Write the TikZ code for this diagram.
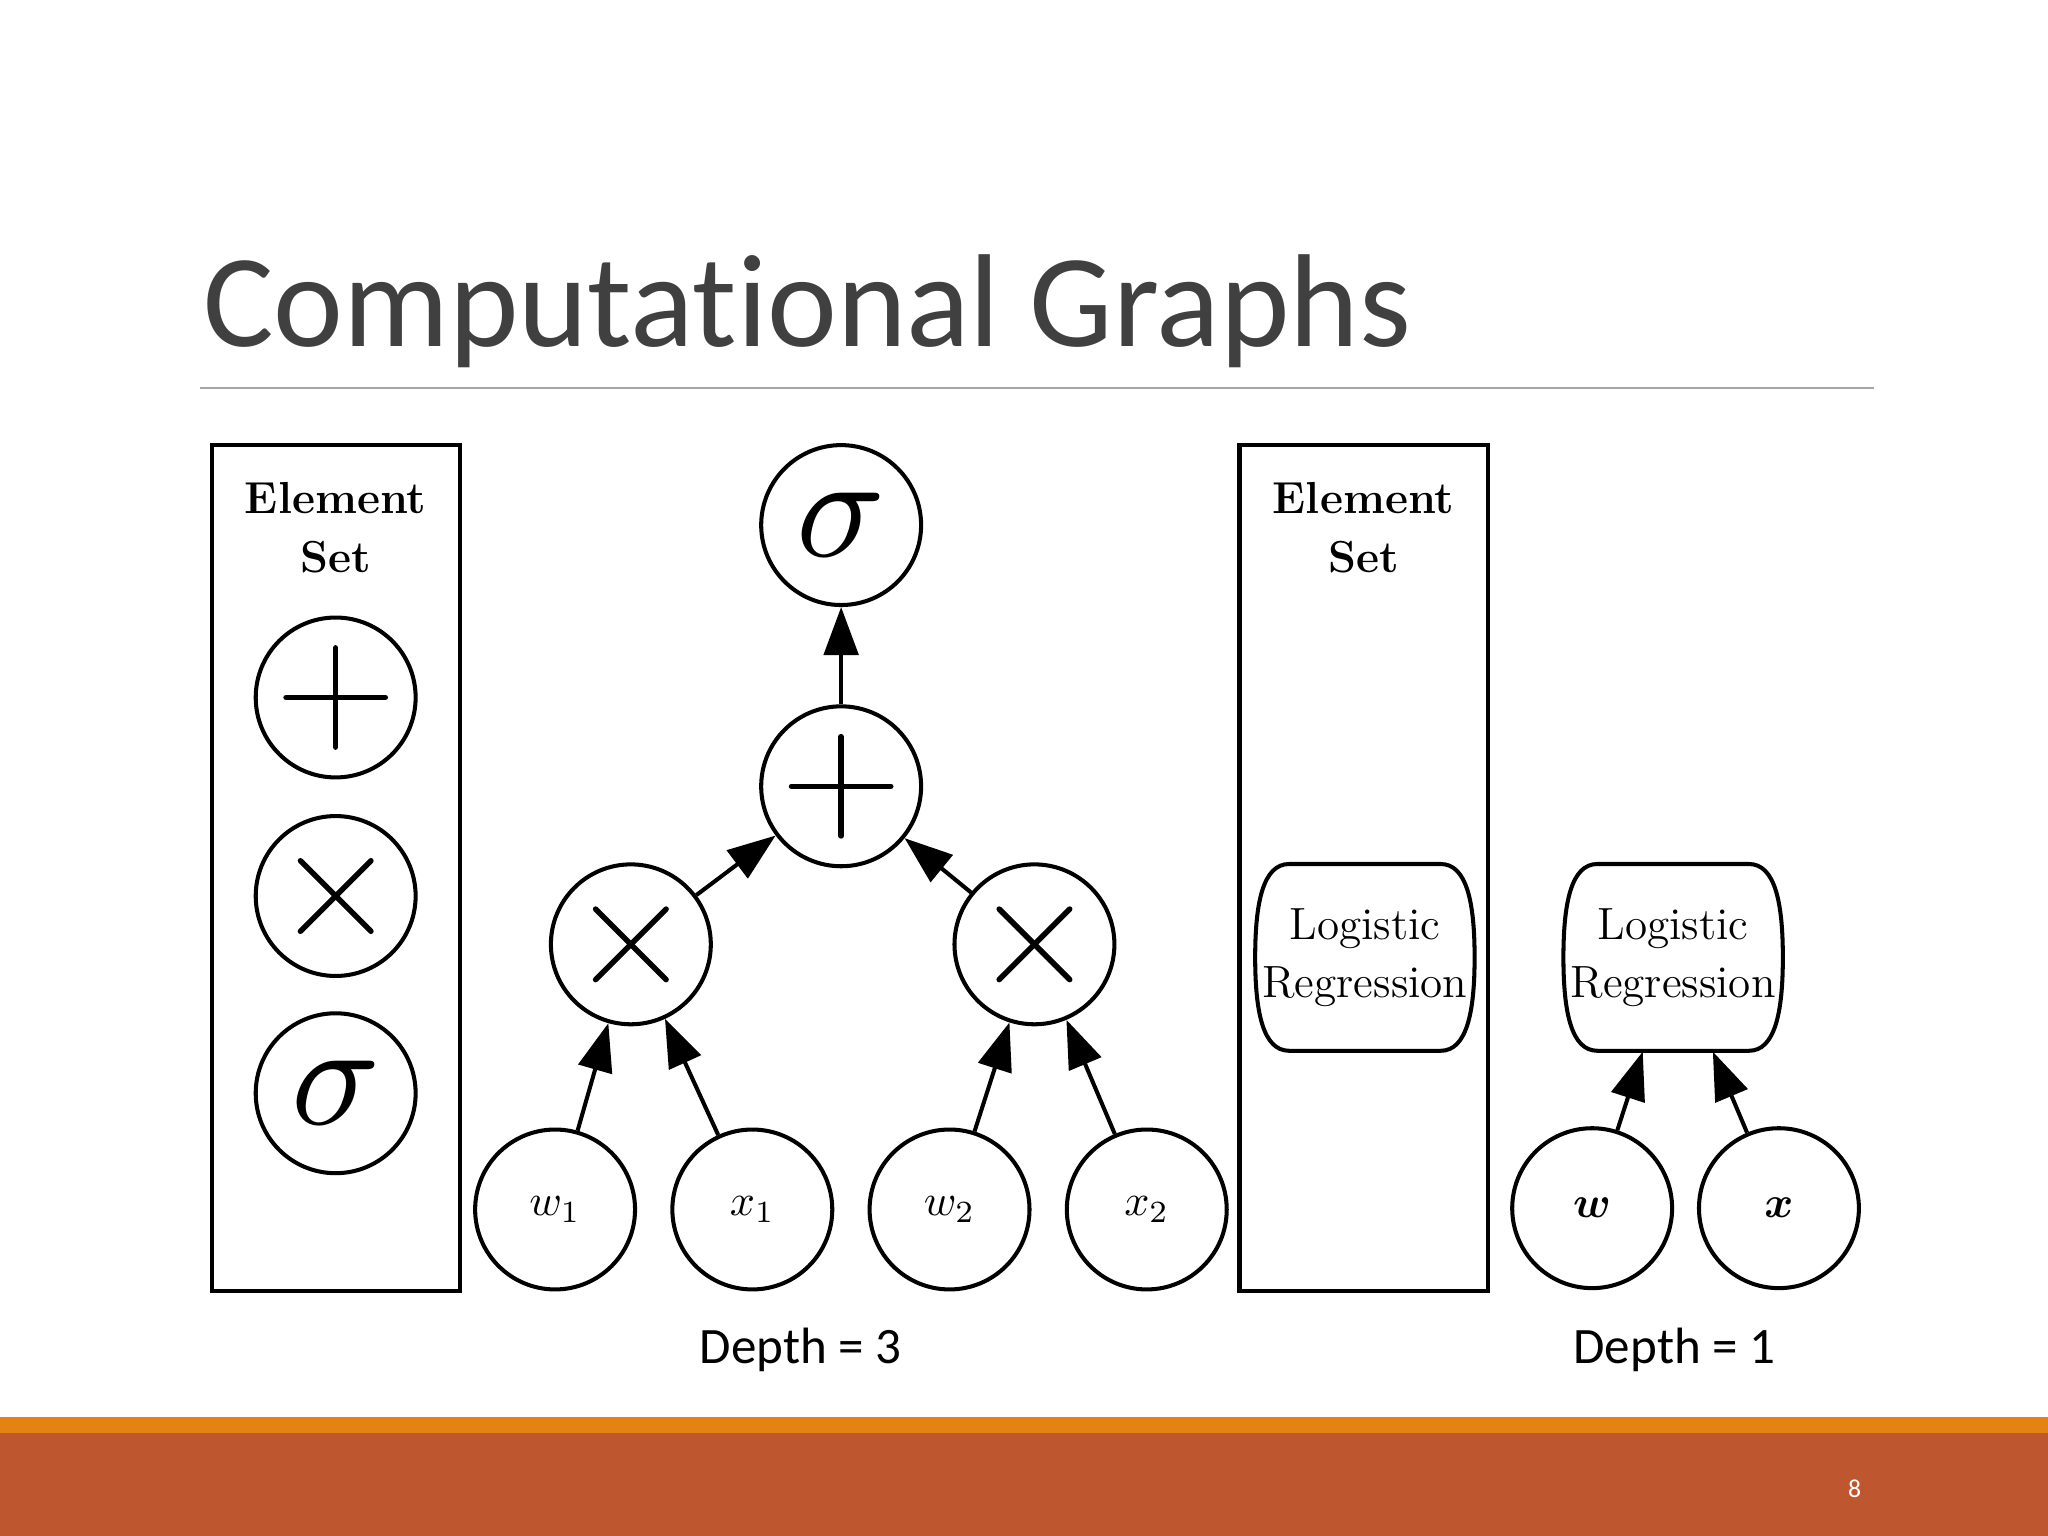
\documentclass[tikz,border=0pt]{standalone}
\usepackage{fontspec}
\usepackage{amsmath}
\usepackage{bm}
\usepackage{graphicx}
\newfontfamily\calibri[Ligatures=NoCommon]{Carlito}
\usetikzlibrary{arrows.meta,calc}
\definecolor{titlegray}{HTML}{404040}
\definecolor{rulegray}{HTML}{A6A6A6}
\definecolor{stripeorange}{HTML}{E48312}
\definecolor{footrust}{HTML}{BE5730}
\newcommand\drawplus[1]{%
  \draw[symline] ($(#1)+(-38,0)$) -- ($(#1)+(38,0)$);
  \draw[symline] ($(#1)+(0,-38)$) -- ($(#1)+(0,38)$);}
\newcommand\drawtimes[1]{%
  \draw[symline] ($(#1)+(-27,-27)$) -- ($(#1)+(27,27)$);
  \draw[symline] ($(#1)+(-27,27)$) -- ($(#1)+(27,-27)$);}
\newcommand\barrelat[1]{%
  \draw[line width=1.1pt] ($(#1.center)+(-58,-71.5)$) -- ($(#1.center)+(58,-71.5)$)
   .. controls ($(#1.center)+(78,-71.5)$) and ($(#1.center)+(84,-42)$) .. ($(#1.center)+(84,0)$)
   .. controls ($(#1.center)+(84,42)$) and ($(#1.center)+(78,71.5)$) .. ($(#1.center)+(58,71.5)$)
   -- ($(#1.center)+(-58,71.5)$)
   .. controls ($(#1.center)+(-78,71.5)$) and ($(#1.center)+(-84,42)$) .. ($(#1.center)+(-84,0)$)
   .. controls ($(#1.center)+(-84,-42)$) and ($(#1.center)+(-78,-71.5)$) .. cycle;}
\begin{document}
\begin{tikzpicture}[x=0.0125cm,y=-0.0125cm,
  opnode/.style={circle, draw, line width=1.1pt, minimum size=1.53cm, inner sep=0pt},
  edge/.style={-{Triangle[length=0.46cm,width=0.33cm]}, line width=1.1pt},
  symline/.style={line width=1.5pt, line cap=round},
  setbox/.style={draw, line width=1.1pt, minimum width=2.375cm, minimum height=8.0875cm, inner sep=0pt},
  settext/.style={anchor=base, font=\fontsize{12.2}{14}\selectfont\bfseries, inner sep=0pt},
  lrnode/.style={rectangle, minimum width=2.1cm, minimum height=1.79cm, inner sep=0pt, align=center,
     font=\fontsize{12.3}{15.7}\selectfont},
  depthtext/.style={anchor=base, font=\calibri\fontsize{13.9}{17}\selectfont, inner sep=0pt}]
\useasboundingbox (0,0) rectangle (1568,1176);
\fill[white] (0,0) rectangle (1568,1176);
% title
\node[anchor=base west, inner sep=0pt, text=titlegray, font=\calibri\fontsize{36}{40}\selectfont] (title) at (155,265) {Computational Graphs};
\coordinate (rl) at (153,297);
\coordinate (rr) at (1435,297);
\draw[rulegray, line width=0.6pt] (rl) -- (rr);
% left element set
\node[setbox] (box1) at (257,664.5) {};
\node[settext] (e1) at (257,393) {Element};
\node[settext] (s1) at (257,438) {Set};
\node[opnode] (ep) at (257,534) {};
\node[opnode] (et) at (257,686) {};
\node[opnode] (es) at (257,837) {\scalebox{4}{$\sigma$}};
\drawplus{ep}
\drawtimes{et}
% depth 3 graph
\node[opnode] (sig) at (644,402) {\scalebox{4}{$\sigma$}};
\node[opnode] (plus) at (644,602) {};
\node[opnode] (tl) at (483,723) {};
\node[opnode] (tr) at (792,723) {};
\node[opnode] (w1) at (425,926) {\scalebox{1.2}{$w_1$}};
\node[opnode] (x1) at (576,926) {\scalebox{1.2}{$x_1$}};
\node[opnode] (w2) at (727,926) {\scalebox{1.2}{$w_2$}};
\node[opnode] (x2) at (878,926) {\scalebox{1.2}{$x_2$}};
\drawplus{plus}
\drawtimes{tl}
\drawtimes{tr}
\draw[edge] (plus) -- (sig);
\draw[edge] (tl) -- (plus);
\draw[edge] (tr) -- (plus);
\draw[edge] (w1) -- (tl);
\draw[edge] (x1) -- (tl);
\draw[edge] (w2) -- (tr);
\draw[edge] (x2) -- (tr);
% right element set
\node[setbox] (box2) at (1044,664.5) {};
\node[settext] (e2) at (1044,393) {Element};
\node[settext] (s2) at (1044,438) {Set};
\node[lrnode] (lr1) at (1045,733) {Logistic\\Regression};
\barrelat{lr1}
% depth 1 graph
\node[lrnode] (lr2) at (1281,733) {Logistic\\Regression};
\barrelat{lr2}
\node[opnode] (w) at (1219,925) {\scalebox{1.2}{$\bm{w}$}};
\node[opnode] (x) at (1362,925) {\scalebox{1.2}{$\bm{x}$}};
\draw[edge] (w) -- (lr2);
\draw[edge] (x) -- (lr2);
% depth labels
\node[depthtext] (d3) at (613,1044) {Depth = 3};
\node[depthtext] (d1) at (1282,1044) {Depth = 1};
% footer
\fill[stripeorange] (0,1085) rectangle (1568,1097);
\fill[footrust] (0,1097) rectangle (1568,1176);
\node[text=white, font=\calibri\fontsize{7}{8}\selectfont, inner sep=0pt] (pg) at (1420,1140) {8};
\end{tikzpicture}
\end{document}
